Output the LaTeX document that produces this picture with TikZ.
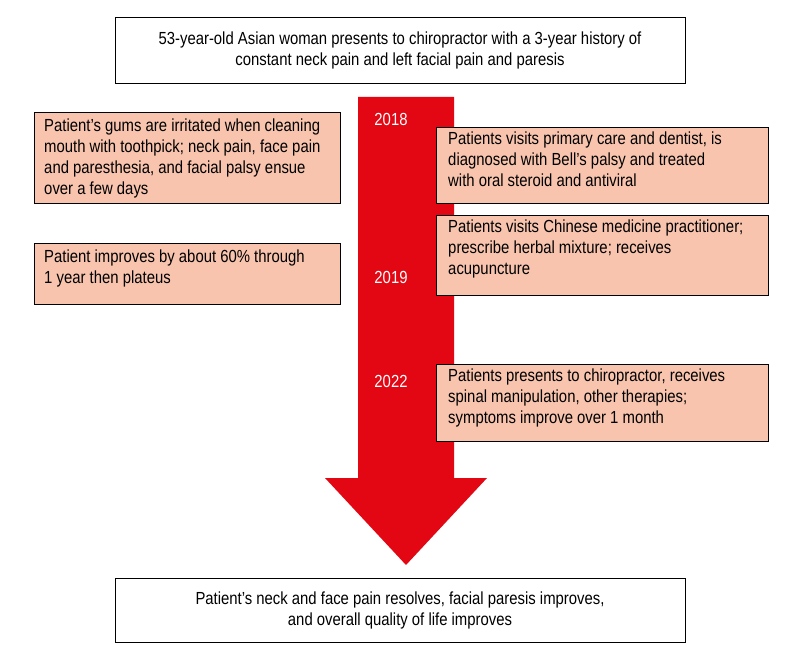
\documentclass[tikz,border=0pt]{standalone}
\usepackage{fontspec}
\setmainfont{Liberation Sans}[FakeStretch=0.85]
\definecolor{salmon}{HTML}{F8C4AE}
\definecolor{redarr}{HTML}{E30613}
\begin{document}
\begin{tikzpicture}[x=1pt,y=-1pt,font=\fontsize{17.5}{21}\selectfont,
  wbox/.style={draw=black,line width=0.8pt,fill=white,align=center,inner sep=0pt},
  yr/.style={text=white}]
\useasboundingbox (0,0) rectangle (800,660);
\fill[white] (0,0) rectangle (800,660);
\fill[redarr] (358,97) -- (454,97) -- (454,478) -- (487,478) -- (406,565) -- (325,478) -- (358,478) -- cycle;
\node[wbox,minimum width=570pt,minimum height=66pt] (top) at (400,50) {53-year-old Asian woman presents to chiropractor with a 3-year history of\\constant neck pain and left facial pain and paresis};
\node[wbox,minimum width=570pt,minimum height=64pt] (bot) at (400,610) {Patient’s neck and face pain resolves, facial paresis improves,\\and overall quality of life improves};
\node[draw,line width=0.6pt,fill=salmon,minimum width=306pt,minimum height=91pt] (l1) at (187,157.5) {};
\node[anchor=north west,align=left] at (l1.north west) [xshift=7pt,yshift=-4pt] {Patient’s gums are irritated when cleaning\\mouth with toothpick; neck pain, face pain\\and paresthesia, and facial palsy ensue\\over a few days};
\node[draw,line width=0.6pt,fill=salmon,minimum width=306pt,minimum height=61pt] (l2) at (187,273.5) {};
\node[anchor=north west,align=left] at (l2.north west) [xshift=7pt,yshift=-4pt] {Patient improves by about 60\% through\\1 year then plateus};
\node[draw,line width=0.6pt,fill=salmon,minimum width=332pt,minimum height=76pt] (r1) at (602,165) {};
\node[anchor=north west,align=left] at (r1.north west) [xshift=9pt,yshift=-2pt] {Patients visits primary care and dentist, is\\diagnosed with Bell’s palsy and treated\\with oral steroid and antiviral};
\node[draw,line width=0.6pt,fill=salmon,minimum width=332pt,minimum height=80pt] (r2) at (602,255) {};
\node[anchor=north west,align=left] at (r2.north west) [xshift=9pt,yshift=-2pt] {Patients visits Chinese medicine practitioner;\\prescribe herbal mixture; receives\\acupuncture};
\node[draw,line width=0.6pt,fill=salmon,minimum width=332pt,minimum height=77pt] (r3) at (602,402.5) {};
\node[anchor=north west,align=left] at (r3.north west) [xshift=9pt,yshift=-2pt] {Patients presents to chiropractor, receives\\spinal manipulation, other therapies;\\symptoms improve over 1 month};
\node[yr] (y1) at (391,119) {2018};
\node[yr] (y2) at (391,277) {2019};
\node[yr] (y3) at (391,381) {2022};
\end{tikzpicture}
\end{document}
